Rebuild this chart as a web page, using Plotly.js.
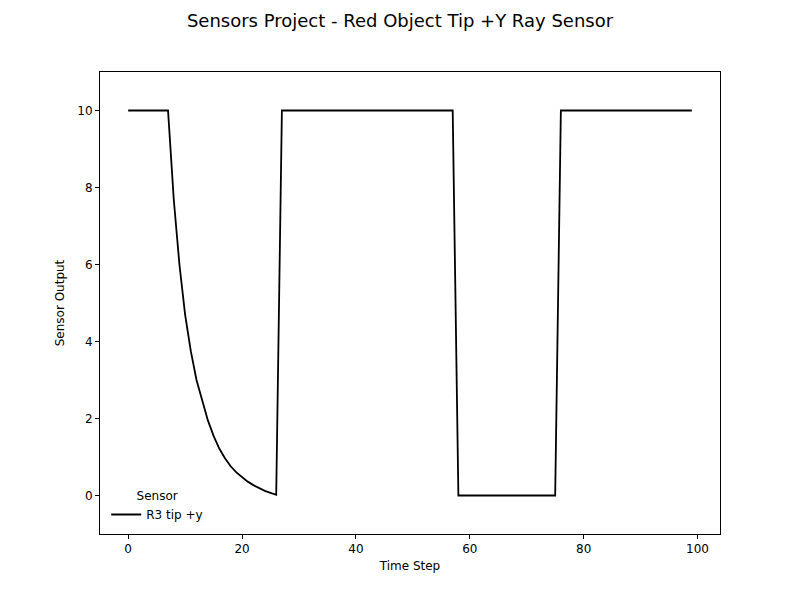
<!DOCTYPE html>
<html>
<head>
<script src="https://cdn.plot.ly/plotly-3.0.1.min.js"></script>
<style>body{margin:0}</style>
</head>
<body>
<div id="graph" style="width:800px;height:600px"></div>
<script>
// time steps 0..99 and the sensor reading
const timeSteps = Array.from({length: 100}, (_, i) => i);
const holdHigh1 = [10, 10, 10, 10, 10, 10, 10, 10];
const decay = [7.7, 6.0, 4.7, 3.75, 3.0, 2.45, 1.95, 1.55, 1.22, 0.97, 0.76, 0.6, 0.47, 0.36, 0.27, 0.19, 0.12, 0.07, 0.02];
const holdHigh2 = new Array(31).fill(10);
const holdLow = new Array(18).fill(0);
const holdHigh3 = new Array(24).fill(10);
const sensorOutput = holdHigh1.concat(decay, holdHigh2, holdLow, holdHigh3);

const trace = {
    x: timeSteps,
    y: sensorOutput,
    mode: 'lines',
    name: 'R3 tip +y',
    line: {color: '#000', width: 1.8}
};

const axisStyle = {
    showgrid: false,
    zeroline: false,
    showline: true,
    mirror: true,
    linecolor: '#000',
    linewidth: 1,
    ticks: 'outside',
    ticklen: 4,
    tickcolor: '#000',
    tickfont: {size: 12}
};

const layout = {
    font: {family: 'DejaVu Sans', color: '#000', size: 12},
    paper_bgcolor: '#fff',
    plot_bgcolor: '#fff',
    margin: {l: 100, r: 80, t: 72, b: 66},
    title: {text: 'Sensors Project - Red Object Tip +Y Ray Sensor', font: {size: 18}, x: 0.5, y: 0.965, yanchor: 'middle'},
    xaxis: Object.assign({}, axisStyle, {range: [-4.95, 103.95], dtick: 20, title: {text: 'Time Step', font: {size: 12}, standoff: 6}}),
    yaxis: Object.assign({}, axisStyle, {range: [-1, 11], dtick: 2, title: {text: 'Sensor Output', font: {size: 12}, standoff: 10}}),
    showlegend: true,
    legend: {
        x: 0.01, y: 0.01, xanchor: 'left', yanchor: 'bottom',
        bgcolor: 'rgba(0,0,0,0)',
        title: {text: 'Sensor', side: 'top center', font: {size: 12}},
        font: {size: 12}
    }
};

Plotly.newPlot('graph', [trace], layout, {displayModeBar: false});
</script>
</body>
</html>
